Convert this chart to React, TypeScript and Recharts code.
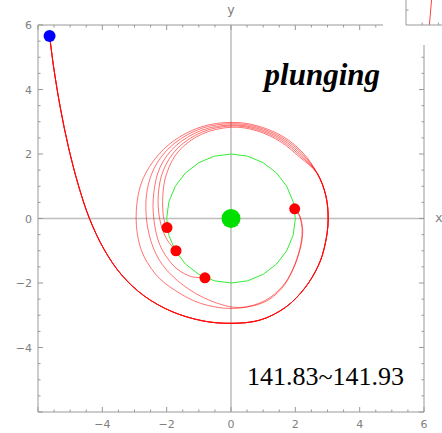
import React from 'react'
import { ComposedChart, LineChart, Line, Scatter, XAxis, YAxis, ReferenceLine } from 'recharts'

type Pt = { x: number; y: number }

// shared incoming part: from the blue start point, one turn round the hole
const headPath: Pt[] = [
    { x: -5.64, y: 5.66 }, { x: -5.5, y: 4.6 }, { x: -5.3, y: 3.4 }, { x: -5.05, y: 2.2 },
    { x: -4.75, y: 1.05 }, { x: -4.4, y: 0.0 }, { x: -3.95, y: -0.95 }, { x: -3.4, y: -1.75 },
    { x: -2.7, y: -2.4 }, { x: -1.85, y: -2.88 }, { x: -0.9, y: -3.17 }, { x: 0, y: -3.25 },
    { x: 0.9, y: -3.15 }, { x: 1.7, y: -2.75 }, { x: 2.3, y: -2.15 }, { x: 2.72, y: -1.45 },
    { x: 2.93, y: -0.78 }, { x: 3.02, y: -0.05 }, { x: 2.95, y: 0.7 }, { x: 2.68, y: 1.4 },
]

// the five runs split apart after the first turn
const tail1: Pt[] = [
    { x: 2.25, y: 2.02 }, { x: 1.62, y: 2.54 }, { x: 0.8, y: 2.88 }, { x: 0, y: 2.98 },
    { x: -0.9, y: 2.85 }, { x: -1.75, y: 2.43 }, { x: -2.4, y: 1.8 }, { x: -2.82, y: 1.0 },
    { x: -2.95, y: 0 }, { x: -2.8, y: -0.95 }, { x: -2.35, y: -1.72 }, { x: -1.75, y: -2.22 },
    { x: -0.95, y: -2.63 }, { x: 0, y: -2.79 }, { x: 0.95, y: -2.63 }, { x: 1.55, y: -2.2 },
    { x: 1.92, y: -1.6 }, { x: 2.15, y: -0.95 }, { x: 2.23, y: -0.4 }, { x: 2.15, y: 0.05 },
    { x: 1.98, y: 0.3 },
]
const tail2: Pt[] = [
    { x: 2.23, y: 1.99 }, { x: 1.6, y: 2.5 }, { x: 0.8, y: 2.84 }, { x: 0, y: 2.94 },
    { x: -0.9, y: 2.8 }, { x: -1.72, y: 2.36 }, { x: -2.3, y: 1.72 }, { x: -2.6, y: 0.92 },
    { x: -2.63, y: 0 }, { x: -2.42, y: -0.9 }, { x: -2.0, y: -1.6 }, { x: -1.27, y: -2.22 },
    { x: -0.45, y: -2.62 }, { x: 0.3, y: -2.76 }, { x: 1.05, y: -2.55 }, { x: 1.6, y: -2.1 },
    { x: 1.93, y: -1.55 }, { x: 2.14, y: -0.93 }, { x: 2.21, y: -0.4 }, { x: 2.14, y: 0.05 },
    { x: 1.98, y: 0.3 },
]
const tail3: Pt[] = [
    { x: 2.2, y: 1.96 }, { x: 1.58, y: 2.46 }, { x: 0.8, y: 2.8 }, { x: 0, y: 2.9 },
    { x: -0.9, y: 2.74 }, { x: -1.7, y: 2.27 }, { x: -2.2, y: 1.6 }, { x: -2.4, y: 0.8 },
    { x: -2.4, y: 0 }, { x: -2.22, y: -0.8 }, { x: -1.8, y: -1.45 }, { x: -1.3, y: -1.78 },
    { x: -0.81, y: -1.84 },
]
const tail4: Pt[] = [
    { x: 2.17, y: 1.93 }, { x: 1.56, y: 2.42 }, { x: 0.8, y: 2.76 }, { x: 0, y: 2.87 },
    { x: -0.9, y: 2.68 }, { x: -1.66, y: 2.18 }, { x: -2.1, y: 1.5 }, { x: -2.26, y: 0.75 },
    { x: -2.22, y: 0 }, { x: -2.02, y: -0.6 }, { x: -1.71, y: -1.0 },
]
const tail5: Pt[] = [
    { x: 2.14, y: 1.9 }, { x: 1.54, y: 2.38 }, { x: 0.8, y: 2.72 }, { x: 0, y: 2.83 },
    { x: -0.9, y: 2.62 }, { x: -1.62, y: 2.1 }, { x: -2.0, y: 1.4 }, { x: -2.12, y: 0.7 },
    { x: -2.1, y: 0.05 }, { x: -1.99, y: -0.28 },
]

// horizon, radius 2
const horizon: Pt[] = [
    { x: 2, y: 0 }, { x: 1.932, y: 0.518 }, { x: 1.732, y: 1 }, { x: 1.414, y: 1.414 },
    { x: 1, y: 1.732 }, { x: 0.518, y: 1.932 }, { x: 0, y: 2 }, { x: -0.518, y: 1.932 },
    { x: -1, y: 1.732 }, { x: -1.414, y: 1.414 }, { x: -1.732, y: 1 }, { x: -1.932, y: 0.518 },
    { x: -2, y: 0 }, { x: -1.932, y: -0.518 }, { x: -1.732, y: -1 }, { x: -1.414, y: -1.414 },
    { x: -1, y: -1.732 }, { x: -0.518, y: -1.932 }, { x: 0, y: -2 }, { x: 0.518, y: -1.932 },
    { x: 1, y: -1.732 }, { x: 1.414, y: -1.414 }, { x: 1.732, y: -1 }, { x: 1.932, y: -0.518 },
]

const endDots: Pt[] = [
    { x: 1.98, y: 0.3 }, { x: -1.99, y: -0.28 }, { x: -1.71, y: -1.0 }, { x: -0.81, y: -1.84 },
]
const startDot: Pt[] = [{ x: -5.64, y: 5.66 }]
const centerDot: Pt[] = [{ x: 0, y: 0 }]

const frameTicks = [
    -6, -5.5, -5, -4.5, -4, -3.5, -3, -2.5, -2, -1.5, -1, -0.5, 0,
    0.5, 1, 1.5, 2, 2.5, 3, 3.5, 4, 4.5, 5, 5.5, 6,
]
const labeledTicks = [-4, -2, 0, 2, 4, 6]

const insetLine: Pt[] = [{ x: 0.65, y: 0 }, { x: 0.71, y: 1 }]
const insetXTicks = [0.45, 0.9]
const insetYTicks = [0.6]

const trajectories = [tail1, tail2, tail3, tail4, tail5].map((t) => headPath.concat(t))

const FRAME = '#999'
const LABEL = '#808080'

// smooth curve through every point (Catmull-Rom), so the orbits don't overshoot
const smoothCurve = (context: any) => {
    let pts: number[][] = []
    return {
        areaStart() {},
        areaEnd() {},
        lineStart() {
            pts = []
        },
        point(x: number, y: number) {
            pts.push([+x, +y])
        },
        lineEnd() {
            if (!pts.length) return
            context.moveTo(pts[0][0], pts[0][1])
            for (let i = 0; i < pts.length - 1; i++) {
                const p0 = pts[i - 1] || pts[i]
                const p1 = pts[i]
                const p2 = pts[i + 1]
                const p3 = pts[i + 2] || p2
                context.bezierCurveTo(
                    p1[0] + (p2[0] - p0[0]) / 6, p1[1] + (p2[1] - p0[1]) / 6,
                    p2[0] - (p3[0] - p1[0]) / 6, p2[1] - (p3[1] - p1[1]) / 6,
                    p2[0], p2[1],
                )
            }
        },
    }
}

const FrameTick = (props: any) => {
    const { x, y, payload, side, labels } = props
    const v = payload.value
    const major = v % 2 === 0
    const len = major ? 5 : 2.5
    const text = v < 0 ? `\u2212${-v}` : `${v}`
    const show = labels && labels.includes(v)
    if (side === 'bottom') {
        return (
            <g>
                <line x1={x} y1={y} x2={x} y2={y - len} stroke={FRAME} />
                {show && (
                    <text x={x} y={y + 16} textAnchor="middle" fill={LABEL} fontSize={11} fontFamily="DejaVu Sans">
                        {text}
                    </text>
                )}
            </g>
        )
    }
    if (side === 'top') return <line x1={x} y1={y} x2={x} y2={y + len} stroke={FRAME} />
    if (side === 'right') return <line x1={x} y1={y} x2={x - len} y2={y} stroke={FRAME} />
    return (
        <g>
            <line x1={x} y1={y} x2={x + len} y2={y} stroke={FRAME} />
            {show && (
                <text x={x - 6} y={y + 4} textAnchor="end" fill={LABEL} fontSize={11} fontFamily="DejaVu Sans">
                    {text}
                </text>
            )}
        </g>
    )
}

const dotShape = (r: number, color: string) => (p: any) => <circle cx={p.cx} cy={p.cy} r={r} fill={color} />

export default function App() {
    return (
        <div style={{ position: 'absolute', left: 0, top: 0, width: 442, height: 433, background: '#fff' }}>
            <ComposedChart width={442} height={433} margin={{ top: 0, right: 0, bottom: 0, left: 0 }}>
                <XAxis dataKey="x" type="number" domain={[-6, 6]} allowDataOverflow ticks={frameTicks} interval={0}
                    height={21} tickSize={0} tickMargin={0} axisLine={{ stroke: FRAME }}
                    tick={<FrameTick side="bottom" labels={labeledTicks} />} />
                <XAxis xAxisId="top" orientation="top" dataKey="x" type="number" domain={[-6, 6]} allowDataOverflow
                    ticks={frameTicks} interval={0} height={25} tickSize={0} tickMargin={0}
                    axisLine={{ stroke: FRAME }} tick={<FrameTick side="top" />} />
                <YAxis dataKey="y" type="number" domain={[-6, 6]} allowDataOverflow ticks={frameTicks} interval={0}
                    width={38} tickSize={0} tickMargin={0} axisLine={{ stroke: FRAME }}
                    tick={<FrameTick side="left" labels={labeledTicks} />} />
                <YAxis yAxisId="right" orientation="right" dataKey="y" type="number" domain={[-6, 6]} allowDataOverflow
                    ticks={frameTicks} interval={0} width={18} tickSize={0} tickMargin={0}
                    axisLine={{ stroke: FRAME }} tick={<FrameTick side="right" />} />

                <ReferenceLine x={0} stroke="#bdbdbd" strokeWidth={1.5} />
                <ReferenceLine y={0} stroke="#bdbdbd" strokeWidth={1.5} />

                <Line data={horizon} dataKey="y" type="linearClosed" stroke="#33ee33" strokeWidth={1}
                    dot={false} activeDot={false} isAnimationActive={false} />
                {trajectories.map((pts, i) => (
                    <Line key={i} data={pts} dataKey="y" type={smoothCurve as any} stroke="#ff0000" strokeWidth={1}
                        strokeOpacity={0.55} dot={false} activeDot={false} isAnimationActive={false} />
                ))}

                <Scatter data={centerDot} dataKey="y" xAxisId="top" yAxisId="right" isAnimationActive={false}
                    shape={dotShape(9.5, '#00e000')} />
                <Scatter data={startDot} dataKey="y" isAnimationActive={false} shape={dotShape(6, '#0000ff')} />
                <Scatter data={endDots} dataKey="y" isAnimationActive={false} shape={dotShape(5.5, '#ff0000')} />

                <text x={231} y={14} textAnchor="middle" fill={LABEL} fontSize={13} fontFamily="DejaVu Sans Mono">y</text>
                <text x={435} y={222} fill={LABEL} fontSize={13} fontFamily="DejaVu Sans Mono">x</text>
                <text x={380} y={85} textAnchor="end" fontSize={31} fontWeight="bold" fontStyle="italic"
                    fontFamily="Liberation Serif" fill="#000">plunging</text>
                <text x={404} y={385} textAnchor="end" fontSize={26} fontFamily="Liberation Serif" fill="#000">
                    141.83~141.93
                </text>
            </ComposedChart>

            <div style={{ position: 'absolute', left: 383, top: 0, width: 59, height: 45, background: '#fff' }}>
                <LineChart width={59} height={45} margin={{ top: 0, right: 0, bottom: 0, left: 0 }}>
                    <XAxis dataKey="x" type="number" domain={[0, 1]} allowDataOverflow ticks={insetXTicks} interval={0}
                        height={20} tickSize={0} tickMargin={0} axisLine={{ stroke: FRAME }}
                        tick={<FrameTick side="bottom" />} />
                    <YAxis dataKey="y" type="number" domain={[0, 1]} allowDataOverflow ticks={insetYTicks} interval={0}
                        width={23} tickSize={0} tickMargin={0} axisLine={{ stroke: FRAME }}
                        tick={<FrameTick side="left" />} />
                    <Line data={insetLine} dataKey="y" type="linear" stroke="#ff4444" strokeWidth={1}
                        dot={false} activeDot={false} isAnimationActive={false} />
                </LineChart>
            </div>
        </div>
    )
}
